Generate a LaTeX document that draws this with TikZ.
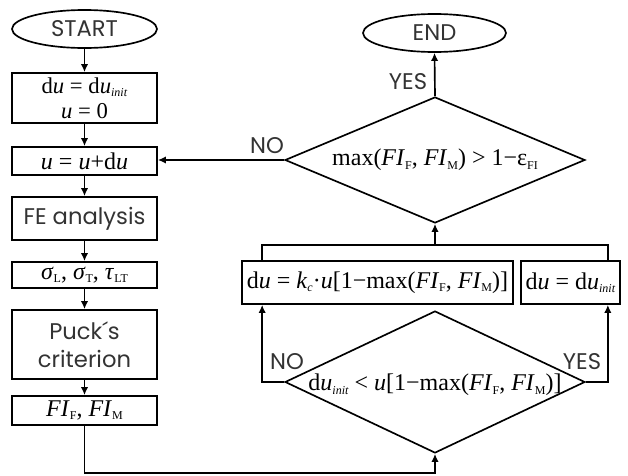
\documentclass[tikz,border=0pt]{standalone}
\usepackage{fontspec}
\setmainfont{Liberation Serif}
\newfontfamily\gothic{Poppins}
\usetikzlibrary{shapes.geometric,arrows.meta,calc}
\def\PX{0.75pt}
\newcommand\ui{\textit{u}}
\newcommand\ssub[1]{\raisebox{-0.3ex}{\fontsize{9}{9}\selectfont #1}}
\begin{document}
\begin{tikzpicture}[x=0.75pt,y=-0.75pt,
  line width=1.25pt,
  arr/.style={-{Latex[length=6pt,width=5.5pt]}},
  gfont/.style={font=\gothic\fontsize{17}{21}\selectfont,text=black!80},
  gbox/.style={draw,rectangle,inner sep=0pt,minimum width=145*\PX,gfont,align=center},
  mbox/.style={draw,rectangle,inner sep=0pt,font=\fontsize{18}{20}\selectfont,align=center},
  term/.style={draw,ellipse,inner sep=0pt,minimum width=145*\PX,minimum height=38*\PX,gfont},
  dec/.style={draw,diamond,inner sep=0pt,minimum width=300*\PX},
  mtext/.style={inner sep=0pt,font=\fontsize{18}{18}\selectfont},
  lab/.style={inner sep=0pt,gfont}]
\useasboundingbox (0,0) rectangle (628,475);
% left column
\node[term] (start) at (84.5,29) {START};
\node[mbox,minimum width=145*\PX,minimum height=50*\PX,font=\fontsize{17}{18.5}\selectfont] (init) at (84.5,98) {d\ui{} = d\ui\ssub{\textit{init}}\\\ui{} = 0};
\node[mbox,minimum width=145*\PX,minimum height=28*\PX] (upd) at (84.5,161) {\ui{} = \ui+d\ui};
\node[gbox,minimum height=43*\PX] (fe) at (84.5,218.5) {FE analysis};
\node[mbox,minimum width=145*\PX,minimum height=26*\PX] (sig) at (84.5,275) {\textit{σ}\ssub{L}, \textit{σ}\ssub{T}, \textit{τ}\ssub{LT}};
\node[gbox,minimum height=69*\PX] (puck) at (84.5,344.5) {Puck´s\\criterion};
\node[mbox,minimum width=145*\PX,minimum height=29*\PX] (fi) at (84.5,410.5) {\textit{FI}\ssub{F}, \textit{FI}\ssub{M}};
% right column
\node[term,minimum width=143*\PX] (end) at (434.5,33) {END};
\node[dec,minimum height=126*\PX] (d1) at (435,160) {};
\node[mtext] (d1t) at (435,160) {max(\textit{FI}\ssub{F}, \textit{FI}\ssub{M}) > 1−ε\ssub{FI}};
\node[mbox,minimum width=271*\PX,minimum height=43*\PX] (boxa) at (377.5,282.5) {d\ui{} = \textit{k}\ssub{\textit{c}}·\ui[1−max(\textit{FI}\ssub{F}, \textit{FI}\ssub{M})]};
\node[mbox,minimum width=99*\PX,minimum height=43*\PX] (boxb) at (570.5,282.5) {d\ui{} = d\ui\ssub{\textit{init}}};
\node[dec,minimum height=142*\PX] (d2) at (435,382) {};
\node[mtext] (d2t) at (435,385) {d\ui\ssub{\textit{init}} < \ui[1−max(\textit{FI}\ssub{F}, \textit{FI}\ssub{M})]};
% helper coordinates
\coordinate (bot) at (435,473);
\coordinate (ain) at ([xshift=21*\PX]boxa.south west);
\coordinate (aout) at ([xshift=21*\PX]boxa.north west);
\coordinate (bin) at ([xshift=-13*\PX]boxb.south east);
\coordinate (bout) at ([xshift=-13*\PX]boxb.north east);
\coordinate (jm) at (435,245);
% connectors
\draw[arr] (start) -- (init);
\draw[arr] (init) -- (upd);
\draw[arr] (upd) -- (fe);
\draw[arr] (fe) -- (sig);
\draw[arr] (sig) -- (puck);
\draw[arr] (puck) -- (fi);
\draw[arr] (fi.south) |- (bot) -- (d2.south);
\draw[arr] (d2.west) -| (ain);
\draw[arr] (d2.east) -| (bin);
\draw (aout) |- (jm) -| (bout);
\draw[arr] (jm) -- (d1.south);
\draw[arr] (d1.north) -- (end.south);
\draw[arr] (d1.west) -- (d1.west -| upd.east);
% labels
\node[lab] (lyes1) at (408,82) {YES};
\node[lab] (lno1) at (267,146) {NO};
\node[lab] (lno2) at (287,362) {NO};
\node[lab] (lyes2) at (582,362) {YES};
\end{tikzpicture}
\end{document}
